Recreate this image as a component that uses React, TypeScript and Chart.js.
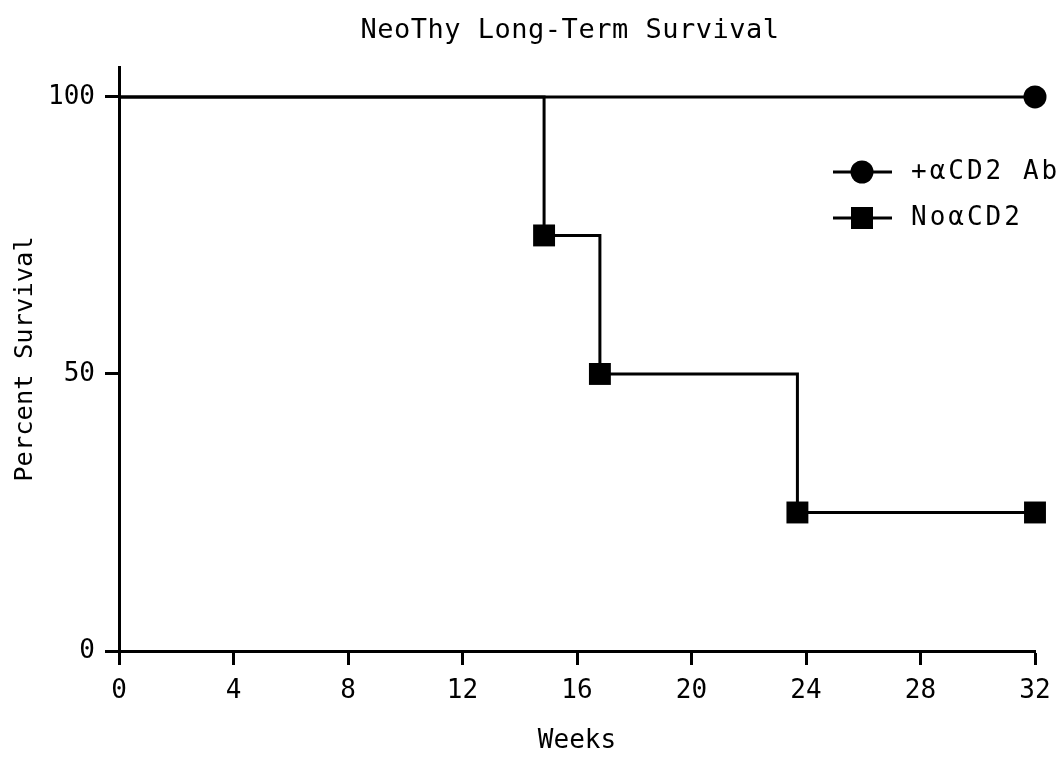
import React, { useEffect, useRef } from "react";
import { Chart, registerables } from "chart.js";

Chart.register(...registerables);

// Kaplan–Meier style survival data (weeks vs. percent surviving)
const titleText = "NeoThy Long-Term Survival";
const xAxisTitle = "Weeks";
const yAxisTitle = "Percent Survival";

const seriesLabels = ["+αCD2 Ab", "NoαCD2"];

const antiCd2Weeks = [0, 32];
const antiCd2Survival = [100, 100];

const noAntiCd2Weeks = [0, 14.85, 16.8, 23.7, 32];
const noAntiCd2Survival = [100, 75, 50, 25, 25];

const xTickValues = [0, 4, 8, 12, 16, 20, 24, 28, 32];
const yTickValues = [0, 50, 100];

const FONT = "'DejaVu Sans Mono', monospace";

// Title centred over the plot area, plus a legend drawn inside the plot:
// a short line with the series marker on it, then the label
const annotations = {
  id: "annotations",
  afterDraw(chart: any) {
    const { ctx, chartArea } = chart;
    ctx.save();

    ctx.fillStyle = "#000";
    ctx.font = `27px ${FONT}`;
    (ctx as any).letterSpacing = "0.5px";
    ctx.textAlign = "center";
    ctx.textBaseline = "middle";
    ctx.fillText(titleText, (chartArea.left + chartArea.right) / 2 - 7, 31);

    const x0 = chartArea.right - 202;
    const rows = [chartArea.top + 105, chartArea.top + 151];
    chart.data.datasets.forEach((ds: any, i: number) => {
      const y = rows[i];
      ctx.strokeStyle = "#000";
      ctx.lineWidth = 3;
      ctx.beginPath();
      ctx.moveTo(x0, y);
      ctx.lineTo(x0 + 59, y);
      ctx.stroke();
      ctx.fillStyle = "#000";
      ctx.beginPath();
      if (ds.pointStyle === "circle") {
        ctx.arc(x0 + 29, y, 11.5, 0, Math.PI * 2);
      } else {
        ctx.rect(x0 + 29 - 11, y - 11, 22, 22);
      }
      ctx.fill();
      ctx.font = `26px ${FONT}`;
      (ctx as any).letterSpacing = "3px";
      ctx.textBaseline = "middle";
      ctx.textAlign = "left";
      ctx.fillText(ds.label, x0 + 78, y);
    });
    ctx.restore();
  },
};

export default function App() {
  const canvasRef = useRef<HTMLCanvasElement | null>(null);

  useEffect(() => {
    if (!canvasRef.current) return;
    const chart = new Chart(canvasRef.current, {
      type: "line",
      data: {
        datasets: [
          {
            label: seriesLabels[0],
            data: antiCd2Weeks.map((w, i) => ({ x: w, y: antiCd2Survival[i] })),
            borderColor: "#000",
            backgroundColor: "#000",
            borderWidth: 3,
            pointStyle: "circle",
            pointRadius: antiCd2Weeks.map((_, i) => (i === 0 ? 0 : 11.5)),
            pointBorderWidth: 0,
            stepped: "before",
            clip: false,
          },
          {
            label: seriesLabels[1],
            data: noAntiCd2Weeks.map((w, i) => ({ x: w, y: noAntiCd2Survival[i] })),
            borderColor: "#000",
            backgroundColor: "#000",
            borderWidth: 3,
            pointStyle: "rect",
            pointRadius: noAntiCd2Weeks.map((_, i) => (i === 0 ? 0 : 15.5)),
            pointBorderWidth: 0,
            stepped: "before",
            clip: false,
          },
        ],
      },
      options: {
        animation: false,
        responsive: false,
        maintainAspectRatio: false,
        layout: { padding: { left: 0, right: 28, top: 67, bottom: 0 } },
        plugins: {
          legend: { display: false },
          tooltip: { enabled: false },
          title: { display: false },
        },
        scales: {
          x: {
            type: "linear",
            min: 0,
            max: 32,
            afterBuildTicks: (axis: any) => {
              axis.ticks = xTickValues.map((v) => ({ value: v }));
            },
            afterFit: (scale: any) => {
              scale.height = 108;
            },
            grid: {
              display: true,
              drawOnChartArea: false,
              drawTicks: true,
              tickLength: 14,
              tickWidth: 3,
              color: "#000",
            },
            border: { display: true, color: "#000", width: 3 },
            ticks: {
              color: "#000",
              font: { family: FONT, size: 26 },
              padding: 11,
              maxRotation: 0,
              autoSkip: false,
            },
            title: {
              display: true,
              text: xAxisTitle,
              color: "#000",
              font: { family: FONT, size: 26 },
              padding: { top: 0, bottom: 2 },
            },
          },
          y: {
            type: "linear",
            min: 0,
            max: 105.4,
            afterBuildTicks: (axis: any) => {
              axis.ticks = yTickValues.map((v) => ({ value: v }));
            },
            afterFit: (scale: any) => {
              scale.width = 119;
            },
            grid: {
              display: true,
              drawOnChartArea: false,
              drawTicks: true,
              tickLength: 14,
              tickWidth: 3,
              color: "#000",
            },
            border: { display: true, color: "#000", width: 3 },
            ticks: {
              color: "#000",
              font: { family: FONT, size: 26 },
              padding: 10,
              autoSkip: false,
            },
            title: {
              display: true,
              text: yAxisTitle,
              color: "#000",
              font: { family: FONT, size: 25.5 },
              padding: { top: 10, bottom: 0 },
            },
          },
        },
      },
      plugins: [annotations],
    } as any);
    return () => chart.destroy();
  }, []);

  return (
    <div style={{ position: "fixed", left: 0, top: 0, width: 1063, height: 759, background: "#fff" }}>
      <canvas ref={canvasRef} width={1063} height={759} style={{ width: 1063, height: 759 }} />
    </div>
  );
}
